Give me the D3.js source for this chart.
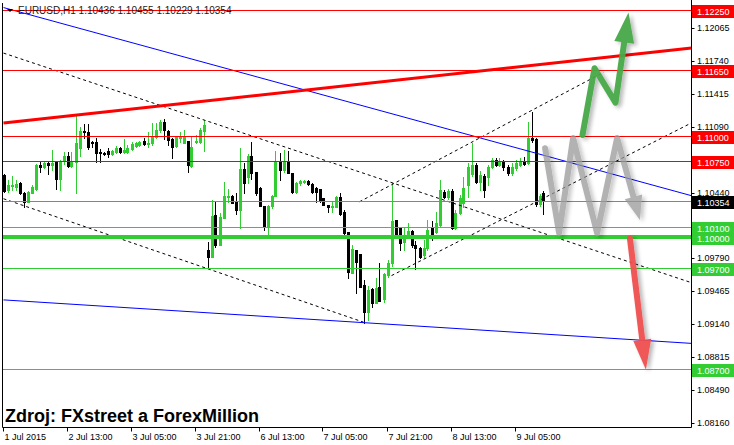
<!DOCTYPE html>
<html><head><meta charset="utf-8">
<script src="https://cdn.jsdelivr.net/npm/d3@7"></script>
<style>
body{margin:0;background:#fff;}
svg{display:block;font-family:"Liberation Sans",Arial,sans-serif;}
</style></head><body>
<svg id="c" width="734" height="445"></svg>
<script>
// ---------- DATA ----------
const symbolTitle = "EURUSD,H1";
const headerValues = ["1.10436","1.10455","1.10229","1.10354"];
const sourceText = "Zdroj: FXstreet a ForexMillion";

const opens = [1.1061,1.1047,1.1051,1.1050,1.1054,1.1044,1.1035,1.1044,1.1048,1.1071,
 1.1069,1.1073,1.1071,1.1074,1.1058,1.1075,1.1080,1.1070,1.1074,1.1088,
 1.1105,1.1104,1.1094,1.1094,1.1084,1.1083,1.1085,1.1082,1.1084,1.1088,
 1.1084,1.1084,1.1087,1.1090,1.1091,1.1095,1.1092,1.1093,1.1099,1.1106,
 1.1114,1.1105,1.1097,1.1090,1.1098,1.1093,1.1095,1.1070,1.1094,1.1094,
 1.1105,1.0987,1.0980,1.1022,1.0992,1.1019,1.1040,1.1041,1.1036,1.1027,
 1.1067,1.1059,1.1080,1.1064,1.1049,1.1031,1.1010,1.1031,1.1041,1.1074,
 1.1066,1.1074,1.1063,1.1045,1.1054,1.1055,1.1056,1.1053,1.1049,1.1048,
 1.1039,1.1032,1.1030,1.1030,1.1040,1.1025,1.1005,1.0965,1.0987,1.0983,
 1.0953,1.0926,1.0949,1.0935,1.0951,1.0939,1.0963,1.0974,1.1017,1.1009,
 1.0995,1.1001,1.1006,1.0992,1.0989,1.0982,1.0989,1.1010,1.1005,1.1012,
 1.1045,1.1040,1.1046,1.1009,1.1024,1.1034,1.1052,1.1062,1.1071,1.1055,
 1.1060,1.1059,1.1069,1.1076,1.1071,1.1074,1.1069,1.1063,1.1068,1.1071,
 1.1074,1.1073,1.1098,1.1097,1.1033,1.10436];
const highs = [1.1062,1.1057,1.1060,1.1057,1.1055,1.1045,1.1046,1.1052,1.1072,1.1075,
 1.1074,1.1074,1.1086,1.1074,1.1076,1.1084,1.1084,1.1084,1.1121,1.1109,
 1.1112,1.1112,1.1095,1.1098,1.1087,1.1084,1.1088,1.1086,1.1090,1.1089,
 1.1097,1.1091,1.1094,1.1094,1.1095,1.1098,1.1104,1.1113,1.1113,1.1116,
 1.1117,1.1106,1.1098,1.1100,1.1104,1.1106,1.1095,1.1100,1.1101,1.1108,
 1.1116,1.0995,1.1037,1.1036,1.1024,1.1055,1.1048,1.1042,1.1044,1.1088,
 1.1073,1.1082,1.1094,1.1064,1.1050,1.1031,1.1032,1.1042,1.1085,1.1083,
 1.1086,1.1085,1.1063,1.1055,1.1057,1.1057,1.1057,1.1054,1.1050,1.1048,
 1.1039,1.1032,1.1035,1.1041,1.1044,1.1027,1.1005,1.0992,1.0987,1.0983,
 1.0958,1.0952,1.0950,1.0960,1.0974,1.0965,1.0977,1.1054,1.1017,1.1010,
 1.1010,1.1014,1.1007,1.0996,1.0990,1.0997,1.1017,1.1016,1.1025,1.1057,
 1.1047,1.1048,1.1048,1.1027,1.1042,1.1059,1.1073,1.1093,1.1073,1.1065,
 1.1062,1.1071,1.1078,1.1078,1.1078,1.1076,1.1071,1.1073,1.1076,1.1078,
 1.1079,1.1114,1.1124,1.1098,1.1043,1.10455];
const lows = [1.1045,1.1045,1.1047,1.1047,1.1043,1.1030,1.1035,1.1044,1.1047,1.1064,
 1.1068,1.1062,1.1066,1.1048,1.1047,1.1072,1.1069,1.1069,1.1044,1.1080,
 1.1098,1.1087,1.1089,1.1074,1.1074,1.1081,1.1079,1.1081,1.1083,1.1083,
 1.1083,1.1083,1.1086,1.1089,1.1090,1.1091,1.1089,1.1091,1.1098,1.1104,
 1.1097,1.1091,1.1078,1.1089,1.1094,1.1093,1.1064,1.1069,1.1093,1.1093,
 1.1085,1.0970,1.0980,1.0990,1.0992,1.1019,1.1035,1.1034,1.1023,1.1009,
 1.1044,1.1054,1.1058,1.1042,1.1031,1.1007,1.1000,1.1029,1.1041,1.1057,
 1.1064,1.1063,1.1044,1.1044,1.1052,1.1054,1.1052,1.1044,1.1035,1.1035,
 1.1032,1.1025,1.1025,1.1030,1.1022,1.1002,1.0960,1.0965,1.0945,1.0951,
 1.0915,1.0918,1.0931,1.0935,1.0937,1.0936,1.0961,1.0972,1.0999,1.0987,
 1.0987,1.0999,1.0990,1.0969,1.0979,1.0980,1.0987,1.0997,1.1004,1.1010,
 1.1039,1.1038,1.1008,1.1008,1.1023,1.1030,1.1040,1.1060,1.1054,1.1047,
 1.1040,1.1052,1.1068,1.1070,1.1070,1.1066,1.1061,1.1061,1.1066,1.1070,
 1.1071,1.1072,1.1094,1.1031,1.1031,1.10229];
const closes = [1.1046,1.1052,1.1052,1.1053,1.1044,1.1035,1.1045,1.1050,1.1071,1.1069,
 1.1073,1.1071,1.1073,1.1058,1.1075,1.1080,1.1070,1.1074,1.1093,1.1105,
 1.1104,1.1089,1.1093,1.1083,1.1083,1.1082,1.1082,1.1085,1.1088,1.1084,
 1.1086,1.1088,1.1092,1.1093,1.1094,1.1092,1.1093,1.1099,1.1106,1.1114,
 1.1106,1.1096,1.1089,1.1099,1.1099,1.1099,1.1071,1.1089,1.1095,1.1106,
 1.1111,1.0980,1.1021,1.0992,1.1020,1.1041,1.1041,1.1034,1.1027,1.1067,
 1.1054,1.1080,1.1063,1.1044,1.1031,1.1010,1.1031,1.1041,1.1075,1.1066,
 1.1074,1.1063,1.1045,1.1054,1.1056,1.1056,1.1053,1.1045,1.1045,1.1037,
 1.1032,1.1030,1.1031,1.1040,1.1023,1.1004,1.0966,1.0988,1.0975,1.0951,
 1.0926,1.0948,1.0935,1.0950,1.0937,1.0964,1.0974,1.1016,1.1000,1.0994,
 1.1002,1.1006,1.0992,1.0989,1.0980,1.0989,1.1007,1.0999,1.1014,1.1047,
 1.1040,1.1046,1.1009,1.1024,1.1039,1.1049,1.1069,1.1071,1.1055,1.1061,
 1.1047,1.1069,1.1076,1.1071,1.1075,1.1069,1.1063,1.1069,1.1073,1.1074,
 1.1072,1.1098,1.1096,1.1033,1.1041,1.10354];

const xTickLabels = ["1 Jul 2015","2 Jul 13:00","3 Jul 05:00","3 Jul 21:00","6 Jul 13:00","7 Jul 05:00","7 Jul 21:00","8 Jul 13:00","9 Jul 05:00"];
const barsPerXTick = 16;
// visible price-scale labels (the ones at 1.10765 and 1.10115 sit under level tags)
const yTickLabels = ["1.12065","1.11740","1.11415","1.11090","1.10440","1.09790","1.09465","1.09140","1.08815","1.08490","1.08160"];

const resistanceLevels = [1.1225, 1.1165, 1.1100, 1.1075];
const supportLevels = [1.1010, 1.0970, 1.0870];
const keySupport = 1.1000;
const lastPrice = 1.10354;

// trend lines as [barIndex, price] pairs
const redTrend = [[0, 1.11129], [172, 1.11870]];
const blueUpper = [[0, 1.1227], [172, 1.1041]];
const blueLower = [[0, 1.0938], [172, 1.0895]];
const dashA = [[0, 1.1182], [172, 1.0955]];
const dashB = [[0, 1.1038], [90, 1.0916]];
const dashC = [[97, 1.0962], [172, 1.1113]];
const dashD = [[89, 1.1035], [150, 1.1163]];

// scenario arrows [barIndex, price]
const arrowUp = [[144.75, 1.1101], [147.75, 1.1167], [153, 1.1133], [156.25, 1.1222]];
const arrowRange = [[135.4, 1.1088], [138.9, 1.1004], [142.4, 1.1098], [148.4, 1.1004], [153.4, 1.1098], [159.1, 1.1017]];
const arrowDown = [[156.6, 1.0999], [160.6, 1.0869]];

// ---------- CHART ----------
const svg = d3.select("#c");
const L = 2.5, R = 691.5, T = 3, B = 427.5;
const x = d3.scaleLinear().domain([0, 172]).range([3.5, 691.5]);
const y = d3.scaleLinear().domain([1.08160, 1.12065]).range([423.3, 28.3]);
const GREEN = "#32cd32";

const defs = svg.append("defs");
defs.append("clipPath").attr("id", "clip").append("rect")
  .attr("x", L).attr("y", 0).attr("width", R - L).attr("height", B);
const f = defs.append("filter").attr("id", "shadow").attr("x", "-30%").attr("y", "-30%").attr("width", "160%").attr("height", "160%");
f.append("feDropShadow").attr("dx", 3).attr("dy", 2).attr("stdDeviation", 2).attr("flood-color", "#000").attr("flood-opacity", 0.3);

const plot = svg.append("g").attr("clip-path", "url(#clip)");

// candles
const bars = d3.range(opens.length).map(i => ({i, o: opens[i], h: highs[i], l: lows[i], c: closes[i]}));
const cg = plot.append("g");
bars.forEach(d => {
  const up = d.c >= d.o;
  const col = up ? GREEN : "#000";
  const cx = Math.round(x(d.i)) + 0.5;
  cg.append("line").attr("x1", cx).attr("x2", cx)
    .attr("y1", Math.round(y(d.h))).attr("y2", Math.round(y(d.l)) + 1)
    .attr("stroke", col).attr("stroke-width", 1);
  const y0 = Math.round(y(Math.max(d.o, d.c))), y1 = Math.round(y(Math.min(d.o, d.c)));
  cg.append("rect").attr("x", cx - 1.5).attr("y", y0).attr("width", 3).attr("height", Math.max(1, y1 - y0 + 1))
    .attr("fill", col);
});

const line = d3.line().x(d => x(d[0])).y(d => y(d[1]));

// dashed channel lines
[dashA, dashB, dashC, dashD].forEach(seg => {
  plot.append("path").attr("d", line(seg)).attr("fill", "none")
    .attr("stroke", "#000").attr("stroke-width", 1).attr("stroke-dasharray", "3,3");
});
// blue lines
[blueUpper, blueLower].forEach(seg => {
  plot.append("path").attr("d", line(seg)).attr("fill", "none").attr("stroke", "#0000ff").attr("stroke-width", 1);
});
// red trend
plot.append("path").attr("d", line(redTrend)).attr("fill", "none").attr("stroke", "#ff0000").attr("stroke-width", 3);

// horizontal levels
const hline = (p, col, w) => plot.append("line").attr("x1", L).attr("x2", R)
  .attr("y1", Math.round(y(p)) + (w % 2 ? 0.5 : 0)).attr("y2", Math.round(y(p)) + (w % 2 ? 0.5 : 0))
  .attr("stroke", col).attr("stroke-width", w);
resistanceLevels.forEach(p => hline(p, "#ff0000", 1));
supportLevels.forEach(p => hline(p, GREEN, 1));
hline(keySupport, GREEN, 4);
hline(lastPrice, "#778899", 1);

// arrows
function arrow(points, color, width, headLen, headHalf, op) {
  const g = plot.append("g").attr("opacity", op).attr("filter", "url(#shadow)");
  const pts = points.map(p => [x(p[0]), y(p[1])]);
  const n = pts.length;
  const [tx, ty] = pts[n - 1], [px, py] = pts[n - 2];
  const dx = tx - px, dy = ty - py, len = Math.hypot(dx, dy);
  const ux = dx / len, uy = dy / len;
  const bx = tx - ux * headLen, by = ty - uy * headLen;
  const shaft = pts.slice(0, n - 1).concat([[bx + ux * 3, by + uy * 3]]);
  g.append("path").attr("d", d3.line()(shaft)).attr("fill", "none").attr("stroke", color)
    .attr("stroke-width", width).attr("stroke-linejoin", "round").attr("stroke-linecap", "round");
  g.append("path").attr("d", `M${tx},${ty}L${bx - uy * headHalf},${by + ux * headHalf}L${bx + uy * headHalf},${by - ux * headHalf}Z`)
    .attr("fill", color);
}
arrow(arrowRange, "#999999", 6, 24, 9, 0.75);
arrow(arrowUp, "#46a846", 6, 30, 10, 0.95);
arrow(arrowDown, "#f05050", 6, 30, 9, 0.95);

// frame
svg.append("line").attr("x1", L).attr("x2", L).attr("y1", T).attr("y2", B).attr("stroke", "#000");
svg.append("line").attr("x1", L).attr("x2", R).attr("y1", B).attr("y2", B).attr("stroke", "#000");
svg.append("line").attr("x1", R).attr("x2", R).attr("y1", 0).attr("y2", B).attr("stroke", "#000");

// x axis
const xg = svg.append("g");
xTickLabels.forEach((lab, k) => {
  const xi = Math.round(x(k * barsPerXTick)) - 0.5;
  xg.append("line").attr("x1", xi).attr("x2", xi).attr("y1", B).attr("y2", B + 4).attr("stroke", "#000");
  xg.append("text").attr("x", xi + 1).attr("y", 439.5).attr("font-size", 9).attr("fill", "#000").text(lab);
});

// y axis ticks
const yg = svg.append("g");
yTickLabels.forEach(lab => {
  const yy = Math.round(y(+lab)) + 0.5;
  yg.append("line").attr("x1", R).attr("x2", R + 3).attr("y1", yy).attr("y2", yy).attr("stroke", "#000");
  yg.append("text").attr("x", 697).attr("y", yy + 2.6).attr("font-size", 9).attr("fill", "#000").text(lab);
});

// price labels
function priceLabel(p, bg, fg) {
  const yy = Math.round(y(p));
  svg.append("rect").attr("x", 692).attr("y", yy - 5).attr("width", 42).attr("height", 13).attr("fill", bg);
  svg.append("text").attr("x", 697).attr("y", yy + 4.8).attr("font-size", 9).attr("fill", fg).text(p.toFixed(5));
}
resistanceLevels.forEach(p => priceLabel(p, "#ff0000", "#fff"));
supportLevels.concat([keySupport]).forEach(p => priceLabel(p, GREEN, "#fff"));
priceLabel(lastPrice, "#000", "#fff");

// header
svg.append("path").attr("d", "M7,9L13,9L10,12Z").attr("fill", "#000");
svg.append("text").attr("x", 18).attr("y", 13.5).attr("font-size", 10).attr("fill", "#1a1a1a")
  .text(symbolTitle + "  " + headerValues.join(" "));

// source
svg.append("text").attr("x", 5).attr("y", 422).attr("font-size", 18).attr("font-weight", "bold")
  .attr("fill", "#000").text(sourceText);
</script>
</body></html>
